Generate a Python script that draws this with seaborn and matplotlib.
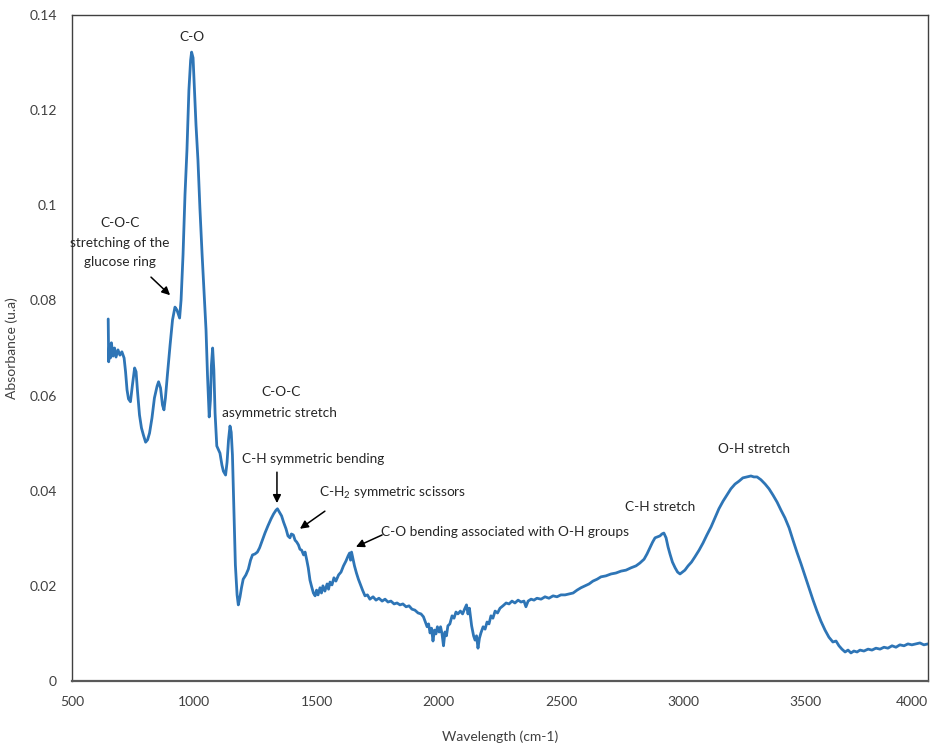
import matplotlib
matplotlib.use("Agg")
import matplotlib.pyplot as plt
import seaborn as sns
import pandas as pd

# FTIR spectrum: wavenumber (cm-1) and absorbance
wavenumber = [
    648, 650, 653, 657, 661, 668, 674, 680, 688, 696, 704, 713, 719, 725, 731, 739,
    747, 756, 762, 768, 776, 784, 792, 801, 809, 817, 827, 837, 848, 854, 862, 870,
    876, 882, 890, 901, 911, 921, 929, 940, 946, 954, 962, 970, 978, 985, 989, 995,
    1001, 1007, 1015, 1023, 1032, 1041, 1048, 1054, 1061, 1066, 1070, 1075, 1080, 1085,
    1092, 1099, 1105, 1113, 1119, 1128, 1134, 1140, 1146, 1151, 1156, 1162, 1168, 1175,
    1180, 1187, 1193, 1200, 1211, 1221, 1230, 1238, 1248, 1258, 1267, 1277, 1289, 1301,
    1314, 1324, 1334, 1340, 1348, 1357, 1365, 1375, 1383, 1391, 1397, 1405, 1412, 1419,
    1426, 1432, 1439, 1447, 1453, 1460, 1466, 1473, 1480, 1487, 1494, 1500, 1506, 1514,
    1520, 1526, 1534, 1543, 1549, 1555, 1563, 1571, 1579, 1590, 1600, 1610, 1620, 1629,
    1635, 1639, 1643, 1649, 1655, 1663, 1671, 1680, 1688, 1698, 1708, 1718, 1731, 1743,
    1755, 1768, 1780, 1792, 1804, 1817, 1829, 1841, 1853, 1866, 1878, 1890, 1902, 1915,
    1927, 1937, 1945, 1952, 1958, 1964, 1970, 1976, 1982, 1988, 1994, 2001, 2007, 2013,
    2019, 2025, 2031, 2037, 2045, 2054, 2062, 2070, 2078, 2088, 2097, 2105, 2113, 2119,
    2125, 2134, 2142, 2148, 2154, 2160, 2166, 2172, 2181, 2189, 2197, 2205, 2213, 2221,
    2230, 2240, 2250, 2262, 2275, 2287, 2299, 2311, 2324, 2336, 2348, 2356, 2365, 2377,
    2389, 2401, 2418, 2434, 2450, 2467, 2483, 2499, 2516, 2532, 2549, 2565, 2581, 2598,
    2614, 2630, 2647, 2663, 2683, 2704, 2724, 2745, 2765, 2786, 2806, 2822, 2839, 2851,
    2863, 2874, 2884, 2894, 2904, 2912, 2920, 2929, 2937, 2945, 2955, 2966, 2976, 2986,
    2996, 3006, 3019, 3033, 3047, 3064, 3080, 3096, 3113, 3129, 3145, 3162, 3178, 3194,
    3211, 3227, 3243, 3260, 3276, 3288, 3301, 3317, 3334, 3350, 3366, 3383, 3399, 3415,
    3432, 3448, 3464, 3481, 3497, 3513, 3530, 3546, 3562, 3579, 3595, 3611, 3624, 3636,
    3648, 3661, 3673, 3685, 3697, 3710, 3722, 3738, 3755, 3771, 3787, 3804, 3820, 3836,
    3853, 3869, 3885, 3902, 3918, 3934, 3951, 3967, 3983, 4000,
]
absorbance = [
    0.0761, 0.0671, 0.0706, 0.0679, 0.0711, 0.0683, 0.0700, 0.0681, 0.0696, 0.0685,
    0.0692, 0.0679, 0.0650, 0.0612, 0.0593, 0.0587, 0.0622, 0.0658, 0.0650, 0.0608,
    0.0559, 0.0532, 0.0517, 0.0502, 0.0507, 0.0521, 0.0553, 0.0595, 0.0620, 0.0629,
    0.0616, 0.0580, 0.0570, 0.0595, 0.0643, 0.0706, 0.0759, 0.0786, 0.0780, 0.0763,
    0.0801, 0.0896, 0.1022, 0.1116, 0.1242, 0.1305, 0.1322, 0.1310, 0.1242, 0.1169,
    0.1095, 0.0994, 0.0896, 0.0807, 0.0738, 0.0643, 0.0555, 0.0591, 0.0664, 0.0700,
    0.0654, 0.0563, 0.0494, 0.0486, 0.0479, 0.0454, 0.0441, 0.0433, 0.0460, 0.0507,
    0.0536, 0.0523, 0.0475, 0.0359, 0.0244, 0.0181, 0.0160, 0.0177, 0.0196, 0.0214,
    0.0223, 0.0235, 0.0254, 0.0265, 0.0267, 0.0271, 0.0280, 0.0294, 0.0311, 0.0326,
    0.0341, 0.0351, 0.0359, 0.0362, 0.0355, 0.0347, 0.0334, 0.0320, 0.0305, 0.0301,
    0.0309, 0.0307, 0.0296, 0.0292, 0.0286, 0.0277, 0.0275, 0.0265, 0.0271, 0.0254,
    0.0238, 0.0212, 0.0198, 0.0185, 0.0179, 0.0191, 0.0181, 0.0196, 0.0185, 0.0200,
    0.0189, 0.0204, 0.0193, 0.0208, 0.0202, 0.0217, 0.0210, 0.0223, 0.0229, 0.0242,
    0.0252, 0.0263, 0.0269, 0.0254, 0.0271, 0.0256, 0.0242, 0.0227, 0.0214, 0.0202,
    0.0191, 0.0179, 0.0181, 0.0172, 0.0177, 0.0170, 0.0174, 0.0168, 0.0172, 0.0166,
    0.0168, 0.0162, 0.0164, 0.0160, 0.0162, 0.0156, 0.0158, 0.0151, 0.0149, 0.0143,
    0.0141, 0.0135, 0.0124, 0.0114, 0.0120, 0.0101, 0.0111, 0.0084, 0.0107, 0.0099,
    0.0114, 0.0103, 0.0114, 0.0099, 0.0074, 0.0103, 0.0095, 0.0116, 0.0120, 0.0137,
    0.0132, 0.0145, 0.0141, 0.0147, 0.0141, 0.0151, 0.0160, 0.0141, 0.0153, 0.0116,
    0.0095, 0.0086, 0.0095, 0.0069, 0.0090, 0.0101, 0.0114, 0.0109, 0.0124, 0.0120,
    0.0137, 0.0132, 0.0147, 0.0143, 0.0153, 0.0158, 0.0164, 0.0162, 0.0168, 0.0164,
    0.0170, 0.0166, 0.0168, 0.0156, 0.0168, 0.0172, 0.0170, 0.0174, 0.0172, 0.0177,
    0.0174, 0.0179, 0.0177, 0.0181, 0.0181, 0.0183, 0.0185, 0.0191, 0.0196, 0.0200,
    0.0204, 0.0210, 0.0214, 0.0219, 0.0221, 0.0225, 0.0227, 0.0231, 0.0233, 0.0238,
    0.0242, 0.0248, 0.0256, 0.0267, 0.0280, 0.0292, 0.0301, 0.0303, 0.0305, 0.0309,
    0.0311, 0.0301, 0.0282, 0.0267, 0.0250, 0.0238, 0.0229, 0.0225, 0.0229, 0.0233,
    0.0242, 0.0250, 0.0261, 0.0275, 0.0290, 0.0307, 0.0324, 0.0343, 0.0362, 0.0378,
    0.0391, 0.0404, 0.0414, 0.0420, 0.0427, 0.0429, 0.0431, 0.0429, 0.0429, 0.0423,
    0.0414, 0.0404, 0.0391, 0.0376, 0.0359, 0.0343, 0.0322, 0.0296, 0.0271, 0.0246,
    0.0221, 0.0196, 0.0170, 0.0147, 0.0126, 0.0107, 0.0092, 0.0082, 0.0084, 0.0074,
    0.0067, 0.0061, 0.0065, 0.0059, 0.0063, 0.0061, 0.0065, 0.0063, 0.0067, 0.0065,
    0.0069, 0.0067, 0.0071, 0.0069, 0.0074, 0.0071, 0.0076, 0.0074, 0.0078, 0.0076,
    0.0078, 0.0080, 0.0076, 0.0078,
]

x_ticks = [500, 1000, 1500, 2000, 2500, 3000, 3500, 4000]
y_ticks = [0, 0.02, 0.04, 0.06, 0.08, 0.1, 0.12, 0.14]
y_tick_labels = ["0", "0.02", "0.04", "0.06", "0.08", "0.1", "0.12", "0.14"]

# band assignments: (label, text x, text y)
band_labels = [
    ("C-O", 991, 0.1354),
    ("C-O-C\nstretching of the\nglucose ring", 696, 0.0921),
    ("C-O-C", 1355, 0.0608),
    ("asymmetric stretch", 1350, 0.0563),
    ("C-H symmetric bending", 1485, 0.0467),
    ("C-H$_\\mathregular{2}$ symmetric scissors", 1813, 0.0395),
    ("C-O bending associated with O-H groups", 2272, 0.0313),
    ("C-H stretch", 2904, 0.0366),
    ("O-H stretch", 3289, 0.0488),
]
# arrows: (tail x, tail y, head x, head y)
band_arrows = [
    (823, 0.0849, 901, 0.0811),
    (1338, 0.0439, 1338, 0.0374),
    (1534, 0.0357, 1432, 0.0320),
    (1768, 0.0307, 1661, 0.0282),
]

sns.set_style("white")
plt.rcParams["font.family"] = ["Lato", "DejaVu Sans"]
plt.rcParams["mathtext.fontset"] = "custom"
plt.rcParams["mathtext.rm"] = "Lato"

fig = plt.figure(figsize=(9.39, 7.48), dpi=100)
ax = fig.add_axes([72 / 939, 1 - 681 / 748, 856 / 939, 666 / 748])

df = pd.DataFrame({"wavenumber": wavenumber, "absorbance": absorbance})
sns.lineplot(data=df, x="wavenumber", y="absorbance", ax=ax, sort=False,
             estimator=None, color="#2E75B6", linewidth=2.0)

ax.set_xlim(500, 4000)
ax.set_ylim(0, 0.14)
ax.set_xticks(x_ticks)
ax.set_xticklabels([str(v) for v in x_ticks])
ax.set_yticks(y_ticks)
ax.set_yticklabels(y_tick_labels)
ax.tick_params(axis="both", length=0, labelsize=10, colors="#404040")
ax.tick_params(axis="x", pad=11)
ax.tick_params(axis="y", pad=11)
# keep the last x label inside the canvas
ax.get_xticklabels()[-1].set_horizontalalignment("right")
ax.get_xticklabels()[-1].set_x(1.0)

ax.set_xlabel("Wavelength (cm-1)", fontsize=10, color="#404040", labelpad=16)
ax.set_ylabel("Absorbance (u.a)", fontsize=10, color="#404040", labelpad=8)

for side in ["left", "top", "right"]:
    ax.spines[side].set_color("#404040")
    ax.spines[side].set_linewidth(1.0)
ax.spines["bottom"].set_color("#595959")
ax.spines["bottom"].set_linewidth(1.6)

for text, tx, ty in band_labels:
    ax.text(tx, ty, text, ha="center", va="center", fontsize=9.8,
            color="#262626", linespacing=1.75)

for x0, y0, x1, y1 in band_arrows:
    ax.annotate("", xy=(x1, y1), xytext=(x0, y0),
                arrowprops=dict(arrowstyle="-|>", color="black", lw=1.1,
                                mutation_scale=12, shrinkA=0, shrinkB=0))

fig.savefig("out.png", dpi=100)
